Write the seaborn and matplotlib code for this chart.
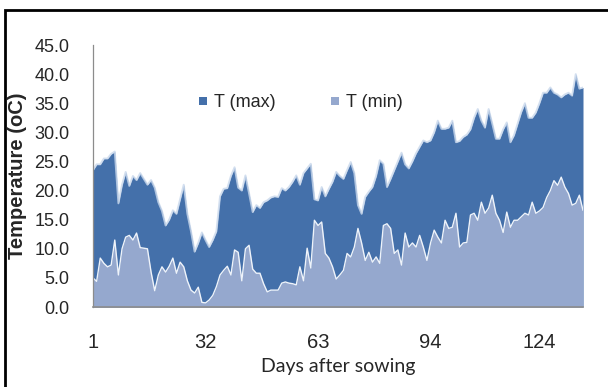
import numpy as np
import pandas as pd
import matplotlib
matplotlib.use("Agg")
import matplotlib.pyplot as plt
from matplotlib.lines import Line2D
from matplotlib.patches import Rectangle
import seaborn as sns

# dias após a semeadura
dias = list(range(1, 137))

t_max = [23.5, 24.5, 24.5, 25.5, 25.5, 26.3, 26.7, 17.8, 21.0, 23.2,
         20.8, 22.5, 21.8, 23.0, 22.0, 21.0, 21.8, 20.5, 18.0, 16.5,
         14.0, 15.0, 16.6, 16.0, 18.5, 21.0, 16.0, 13.0, 9.5, 11.0,
         12.8, 11.5, 10.3, 11.5, 13.0, 19.0, 20.3, 20.4, 22.5, 24.0,
         20.5, 20.0, 22.6, 19.5, 16.3, 17.5, 17.0, 18.0, 18.3, 18.8,
         19.0, 18.9, 20.4, 20.0, 20.6, 21.5, 22.6, 21.0, 23.0, 23.8,
         24.6, 18.5, 18.3, 20.6, 19.0, 20.3, 21.5, 23.2, 22.5, 22.0,
         23.5, 24.9, 23.0, 17.5, 16.0, 18.9, 19.8, 20.6, 22.5, 25.2,
         24.6, 20.6, 22.0, 23.5, 25.0, 26.5, 24.5, 23.8, 25.0, 26.4,
         27.5, 28.6, 28.3, 28.6, 30.0, 32.0, 30.6, 30.6, 30.8, 32.0,
         28.3, 28.5, 29.2, 29.6, 30.5, 32.5, 34.0, 32.0, 30.8, 34.0,
         31.5, 28.9, 28.9, 30.5, 31.7, 28.3, 29.5, 31.5, 33.5, 35.0,
         32.5, 32.5, 33.4, 35.0, 36.8, 36.8, 37.7, 36.8, 36.5, 36.0,
         36.5, 36.8, 36.3, 40.0, 37.5, 37.7]

t_min = [5.0, 4.4, 8.4, 7.5, 6.9, 7.2, 11.5, 5.5, 10.0, 12.0,
         12.3, 11.5, 12.7, 10.2, 10.1, 10.0, 6.0, 2.8, 5.5, 6.9,
         6.0, 7.0, 8.4, 5.8, 7.7, 6.9, 4.5, 2.9, 2.4, 3.4,
         0.8, 0.7, 1.2, 2.0, 3.5, 5.5, 6.3, 7.0, 5.5, 9.8,
         9.4, 4.5, 10.0, 10.6, 6.5, 5.8, 5.8, 4.0, 2.6, 2.9,
         2.9, 2.9, 4.1, 4.3, 4.1, 4.0, 3.8, 6.9, 4.5, 10.1,
         6.7, 14.9, 14.0, 14.6, 9.2, 8.4, 6.9, 4.8, 5.5, 6.3,
         9.2, 8.6, 10.3, 13.5, 11.0, 8.0, 9.4, 7.7, 8.6, 7.5,
         14.0, 14.3, 13.5, 9.2, 9.8, 7.2, 12.7, 10.3, 11.0, 10.3,
         12.3, 10.3, 8.0, 11.0, 13.2, 12.0, 11.0, 14.9, 13.5, 13.7,
         16.1, 10.3, 11.0, 11.1, 15.8, 16.1, 14.9, 18.0, 16.1, 17.0,
         19.2, 16.1, 14.9, 12.8, 16.3, 13.7, 14.9, 14.9, 15.5, 16.1,
         15.8, 18.0, 16.1, 16.5, 17.1, 18.8, 20.0, 21.7, 20.9, 22.3,
         20.6, 19.5, 17.5, 17.8, 19.2, 16.6]

ticks_x = [1, 32, 63, 94, 124]
ticks_y = [0, 5, 10, 15, 20, 25, 30, 35, 40, 45]

cor_max = "#4470AA"
cor_min = "#95A8CE"

df = pd.DataFrame({"dia": dias, "T (max)": t_max, "T (min)": t_min})

sns.set_theme(style="white")
plt.rcParams["font.family"] = ["Liberation Sans", "DejaVu Sans"]

fig = plt.figure(figsize=(6.08, 3.87), dpi=100)
ax = fig.add_axes([93 / 608, 1 - 307 / 387, 490 / 608, 262 / 387])

# áreas sobrepostas (não empilhadas)
ax.fill_between(df["dia"], 0, df["T (max)"], color=cor_max, linewidth=0)
sns.lineplot(data=df, x="dia", y="T (max)", ax=ax, color="#C9D8EC",
             linewidth=1.4, alpha=0.8)
ax.fill_between(df["dia"], 0, df["T (min)"], color=cor_min, linewidth=0)
sns.lineplot(data=df, x="dia", y="T (min)", ax=ax, color="#EEF3FA",
             linewidth=1.0)

ax.set_xlim(1, 136)
ax.set_ylim(0, 45)
ax.set_xticks(ticks_x)
ax.set_yticks(ticks_y)
ax.set_yticklabels([f"{v:.1f}" for v in ticks_y], fontsize=13)
ax.set_xticklabels([str(v) for v in ticks_x], fontsize=14.5)
ax.tick_params(axis="y", length=0, pad=17)
ax.tick_params(axis="x", length=0, pad=19)

ax.set_xlabel("Days after sowing", fontsize=14, family=["Lato", "DejaVu Sans"],
              labelpad=4)
ax.set_ylabel("Temperature (oC)", fontsize=14.5, weight="bold")
ax.yaxis.set_label_coords((18 - 93) / 490, 0.5)
ax.yaxis.label.set_va("center")

for lado in ["top", "right"]:
    ax.spines[lado].set_visible(False)
ax.spines["left"].set_color("#8C8C8C")
ax.spines["bottom"].set_color("#8C8C8C")
ax.spines["left"].set_linewidth(0.9)
ax.spines["bottom"].set_linewidth(1.2)

handles = [
    Line2D([], [], marker="s", linestyle="", markersize=6,
           markerfacecolor=cor_max, markeredgewidth=0),
    Line2D([], [], marker="s", linestyle="", markersize=6,
           markerfacecolor=cor_min, markeredgewidth=0),
]
ax.legend(handles, ["T (max)", "T (min)"], ncol=2, frameon=False,
          fontsize=13, loc="center left", bbox_to_anchor=(0.18, 0.78),
          handlelength=0.6, handletextpad=0.3, columnspacing=3.0)

# moldura da área do gráfico
fig.patches.append(Rectangle((5 / 608, -0.05), 1.2, 1 - 10 / 387 + 0.05,
                             transform=fig.transFigure, fill=False,
                             edgecolor="black", linewidth=2))

fig.savefig("out.png", dpi=100)
plt.close(fig)
